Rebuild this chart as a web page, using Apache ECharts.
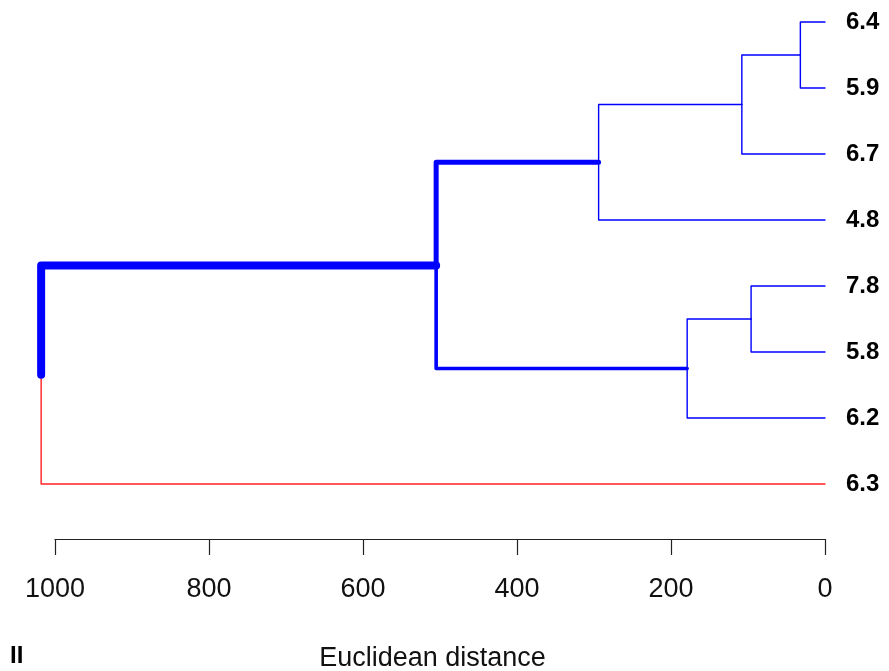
<!DOCTYPE html>
<html>
<head>
<meta charset="utf-8">
<script src="https://cdn.jsdelivr.net/npm/echarts@6/dist/echarts.min.js"></script>
<style>
html,body{margin:0;padding:0;background:#fff;}
#chart{width:889px;height:671px;}
</style>
</head>
<body>
<div id="chart"></div>
<script>
// Leaves in display order (top to bottom)
const leafLabels = ['6.4', '5.9', '6.7', '4.8', '7.8', '5.8', '6.2', '6.3'];
// hclust-style merges: negative = leaf (1-based), positive = earlier merge (1-based)
const mergePairs = [[-1, -2], [1, -3], [2, -4], [-5, -6], [4, -7], [3, 5], [6, -8]];
// Euclidean distance at which each merge happens
const mergeHeights = [32, 108, 294, 96, 179, 505, 1018];
// Axis settings
const axisMin = 0, axisMax = 1000, axisInterval = 200;
const treeMax = 1040; // plotting range of the tree (root sits beyond the axis end)
const axisTitle = 'Euclidean distance';
const panelLabel = 'II';

// --- styles (per child node of an edge) ---
const BLUE = '#0000ff', RED = '#ff2020';
const edgeStyles = {
  'm6': { color: BLUE, width: 8 },
  'm3': { color: BLUE, width: 5 },
  'm5': { color: BLUE, width: 3.6 },
  'l8': { color: RED, width: 1.4 }
};
const defaultEdge = { color: BLUE, width: 1.4 };

// --- build tree geometry from data ---
function nodeKey(id) { return id < 0 ? 'l' + (-id) : 'm' + id; }
function nodeY(id) { return id < 0 ? -id : mergeY[id - 1]; }
function nodeH(id) { return id < 0 ? 0 : mergeHeights[id - 1]; }
const mergeY = [];
mergePairs.forEach(function (p, i) {
  mergeY[i] = (nodeY(p[0]) + nodeY(p[1])) / 2;
});

const series = [];
mergePairs.forEach(function (p, i) {
  const hp = mergeHeights[i];
  const yp = mergeY[i];
  p.forEach(function (child) {
    const st = edgeStyles[nodeKey(child)] || defaultEdge;
    const hc = nodeH(child), yc = nodeY(child);
    series.push({
      type: 'line',
      xAxisIndex: 0, yAxisIndex: 0,
      data: [[hc, yc], [hp, yc], [hp, yp]],
      symbol: 'none',
      clip: false,
      silent: true,
      animation: false,
      z: st.width > 2 ? 3 : 2,
      lineStyle: { color: st.color, width: st.width, cap: 'round', join: 'round' }
    });
  });
});

// pixel layout
const axisLeftPx = 55, axisRightPx = 825, topPx = 22, bottomPx = 484;
const W = 889, H = 671;
const pxPerUnit = (axisRightPx - axisLeftPx) / (axisMax - axisMin);
const treeLeftPx = axisLeftPx - (treeMax - axisMax) * pxPerUnit;

const FONT = '"Liberation Sans", Arial, Helvetica, sans-serif';
const chart = echarts.init(document.getElementById('chart'), null, { renderer: 'canvas' });
chart.setOption({
  backgroundColor: '#ffffff',
  animation: false,
  textStyle: { fontFamily: FONT },
  title: {
    text: panelLabel,
    left: 10, top: 644, padding: 0,
    textStyle: { fontFamily: FONT, fontWeight: 'bold', fontSize: 24, color: '#000' }
  },
  grid: [
    { left: treeLeftPx, right: W - axisRightPx, top: topPx, bottom: H - bottomPx, containLabel: false, outerBoundsMode: 'none' },
    { left: axisLeftPx, right: W - axisRightPx, top: topPx, bottom: H - bottomPx, containLabel: false, outerBoundsMode: 'none' }
  ],
  xAxis: [
    {
      gridIndex: 0, type: 'value', min: axisMin, max: treeMax, inverse: true, show: false
    },
    {
      gridIndex: 1, type: 'value',
      min: axisMin, max: axisMax, interval: axisInterval,
      inverse: true,
      position: 'bottom',
      offset: 55,
      name: axisTitle,
      nameLocation: 'middle',
      nameGap: 106,
      nameTextStyle: { fontFamily: FONT, fontSize: 27, color: '#111', padding: [0, 15, 0, 0] },
      axisLine: { show: true, lineStyle: { color: '#222', width: 1.2 } },
      axisTick: { show: true, length: 16, lineStyle: { color: '#222', width: 1.2 } },
      axisLabel: { fontFamily: FONT, fontSize: 27, color: '#111', margin: 37,
        formatter: function (v) { return String(v); } },
      splitLine: { show: false }
    }
  ],
  yAxis: [
    {
      gridIndex: 0, type: 'value',
      min: 1, max: leafLabels.length, interval: 1,
      inverse: true,
      position: 'right',
      axisLine: { show: false },
      axisTick: { show: false },
      splitLine: { show: false },
      axisLabel: {
        fontFamily: FONT, fontWeight: 'bold', fontSize: 24, color: '#000', margin: 21,
        padding: [12, 0, 0, 0],
        formatter: function (v) { return leafLabels[Math.round(v) - 1] || ''; }
      }
    },
    {
      gridIndex: 1, type: 'value', min: 1, max: leafLabels.length, inverse: true, show: false
    }
  ],
  series: series
});
</script>
</body>
</html>
